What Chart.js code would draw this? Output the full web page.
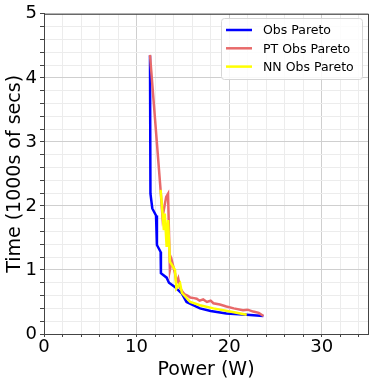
<!DOCTYPE html>
<html lang="en">
<head>
    <meta charset="UTF-8">
    <script src="https://cdn.jsdelivr.net/npm/chart.js@4.4.0/dist/chart.umd.min.js"></script>
    <title>Pareto fronts</title>
    <style>
        body { margin: 0; background: #fff; }
        #wrap { width: 374px; height: 385px; }
    </style>
</head>
<body>
    <div id="wrap"><canvas id="chart" width="374" height="385"></canvas></div>
    <script>
        // power (W), time (1000s of secs)
        const obsPower = [11.45, 11.5, 11.7, 12.1, 12.2, 12.6, 12.63, 13.25, 13.5, 14.1, 14.9, 15.4, 16.85, 18.0, 19.7, 21.9, 23.7];
        const obsTime  = [4.35, 2.19, 1.96, 1.85, 1.39, 1.28, 0.95, 0.88, 0.80, 0.74, 0.63, 0.50, 0.40, 0.36, 0.32, 0.30, 0.28];

        const ptPower = [11.45, 12.6, 12.8, 13.2, 13.4, 13.6, 13.8, 14.15, 14.3, 14.5, 14.7, 15.0, 15.2, 15.5, 15.8, 16.2, 16.5, 16.8, 17.2, 17.6, 18.0, 18.3, 19.0, 19.7, 20.5, 21.5, 22.0, 22.6, 23.2, 23.7];
        const ptTime  = [4.36, 2.24, 1.83, 2.14, 2.19, 1.0, 1.15, 0.95, 0.80, 0.87, 0.72, 0.65, 0.62, 0.60, 0.57, 0.56, 0.55, 0.52, 0.54, 0.50, 0.52, 0.48, 0.46, 0.43, 0.40, 0.37, 0.38, 0.35, 0.33, 0.28];

        const nnPower = [12.6, 12.95, 13.05, 13.25, 13.4, 13.6, 14.15, 14.3, 14.7, 14.9, 15.8, 16.85, 18.3, 20.1, 21.9];
        const nnTime  = [2.25, 1.62, 1.88, 1.36, 1.78, 1.13, 1.0, 0.71, 0.79, 0.64, 0.50, 0.45, 0.40, 0.35, 0.30];

        const xTickLabels = [0, 10, 20, 30];
        const yTickLabels = [0, 1, 2, 3, 4, 5];

        const pts = (xs, ys) => xs.map((x, i) => ({x: x, y: ys[i]}));
        const near = (v, list) => list.some(l => Math.abs(v - l) < 1e-6);

        // legend box drawn inside the plot, top right
        const insideLegend = {
            id: 'insideLegend',
            afterDraw(chart) {
                const ctx = chart.ctx;
                const a = chart.chartArea;
                const x0 = 221, y0 = 18, w = a.right - 6 - x0, h = 61;
                ctx.save();
                ctx.fillStyle = 'rgba(255,255,255,0.85)';
                ctx.strokeStyle = '#d6d6d6';
                ctx.lineWidth = 1;
                ctx.beginPath();
                ctx.roundRect(x0 + 0.5, y0 + 0.5, w, h, 3);
                ctx.fill();
                ctx.stroke();
                ctx.font = '12.5px "DejaVu Sans"';
                ctx.textBaseline = 'middle';
                chart.data.datasets.forEach((ds, i) => {
                    const y = 30 + i * 18.3;
                    ctx.strokeStyle = ds.borderColor;
                    ctx.lineWidth = 2.5;
                    ctx.beginPath();
                    ctx.moveTo(226, y);
                    ctx.lineTo(252, y);
                    ctx.stroke();
                    ctx.fillStyle = '#000';
                    ctx.fillText(ds.label, 263, y + 1);
                });
                ctx.restore();
            }
        };

        // frame around the plot area
        const frame = {
            id: 'frame',
            afterDatasetsDraw(chart) {
                const a = chart.chartArea;
                const ctx = chart.ctx;
                ctx.save();
                ctx.strokeStyle = '#444';
                ctx.lineWidth = 1;
                ctx.strokeRect(a.left + 0.5, a.top + 0.5, a.right - a.left, a.bottom - a.top);
                ctx.restore();
            }
        };

        const ctx = document.getElementById('chart').getContext('2d');
        new Chart(ctx, {
            type: 'scatter',
            data: {
                datasets: [
                    { label: 'Obs Pareto', data: pts(obsPower, obsTime), borderColor: '#0000ff', showLine: true, borderWidth: 2.5, pointRadius: 0, order: 3 },
                    { label: 'PT Obs Pareto', data: pts(ptPower, ptTime), borderColor: '#e86a6a', showLine: true, borderWidth: 2.5, pointRadius: 0, order: 2 },
                    { label: 'NN Obs Pareto', data: pts(nnPower, nnTime), borderColor: '#ffff00', showLine: true, borderWidth: 2.5, pointRadius: 0, order: 1 }
                ]
            },
            options: {
                responsive: false,
                animation: false,
                layout: { padding: { top: 13, right: 6, left: 0, bottom: 0 } },
                plugins: { legend: { display: false }, tooltip: { enabled: false } },
                scales: {
                    x: {
                        type: 'linear', min: 0, max: 35,
                        afterFit(s) { s.height = 51; },
                        ticks: {
                            stepSize: 2, autoSkip: false, maxRotation: 0,
                            color: '#000', padding: 0,
                            font: { family: 'DejaVu Sans', size: 18 },
                            callback: v => near(v, xTickLabels) ? String(v) : ''
                        },
                        afterBuildTicks(s) {
                            const t = [];
                            for (let v = 0; v <= 35; v += 2) t.push({value: v});
                            xTickLabels.forEach(v => { if (!t.some(o => o.value === v)) t.push({value: v}); });
                            t.sort((p, q) => p.value - q.value);
                            s.ticks = t;
                        },
                        grid: {
                            color: c => near(c.tick.value, [0, 10, 20, 30]) ? '#cfcfcf' : '#ececec',
                            tickColor: '#444', tickLength: 3
                        },
                        border: { color: '#444' },
                        title: { display: true, text: 'Power (W)', color: '#000', font: { family: 'DejaVu Sans', size: 19 }, padding: { top: 0 } }
                    },
                    y: {
                        type: 'linear', min: 0, max: 5,
                        afterFit(s) { s.width = 44; },
                        ticks: {
                            stepSize: 0.2, autoSkip: false,
                            color: '#000', padding: 3,
                            font: { family: 'DejaVu Sans', size: 18 },
                            callback: v => near(v, yTickLabels) ? String(Math.round(v)) : ''
                        },
                        grid: {
                            color: c => near(c.tick.value, yTickLabels) ? '#cfcfcf' : '#ececec',
                            tickColor: '#444', tickLength: 4
                        },
                        border: { color: '#444' },
                        title: { display: true, text: 'Time (1000s of secs)', color: '#000', font: { family: 'DejaVu Sans', size: 19 }, padding: { bottom: 0 } }
                    }
                }
            },
            plugins: [insideLegend, frame]
        });
    </script>
</body>
</html>
